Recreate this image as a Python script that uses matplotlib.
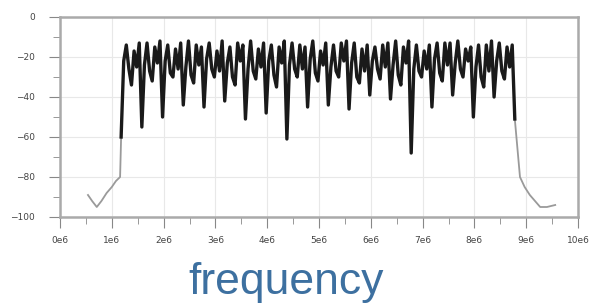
# Frequency response sweep

import numpy as np
import matplotlib
matplotlib.use("Agg")
import matplotlib.pyplot as plt

# Stopband (left)
left_freq = [0.54, 0.62, 0.71, 0.80, 0.90, 1.00, 1.08, 1.16]
left_db = [-89, -92, -95, -92, -88, -85, -82, -80]

# Passband, sampled every 0.05 from 1.18 to 8.78
pass_start = 1.18
pass_step = 0.05
pass_db = [
    -60, -22, -14, -26, -34, -17, -25, -13,
    -55, -24, -13, -27, -32, -15, -23, -12,
    -50, -22, -14, -28, -30, -16, -26, -13,
    -44, -25, -12, -29, -33, -14, -24, -15,
    -45, -21, -13, -26, -30, -17, -27, -12,
    -42, -23, -15, -30, -34, -13, -22, -14,
    -51, -26, -12, -27, -31, -16, -25, -13,
    -48, -22, -14, -29, -35, -15, -23, -12,
    -61, -24, -13, -26, -30, -14, -26, -15,
    -45, -21, -12, -28, -32, -17, -24, -13,
    -44, -25, -14, -27, -30, -13, -22, -12,
    -46, -23, -13, -30, -33, -16, -27, -14,
    -39, -22, -15, -26, -31, -14, -25, -13,
    -41, -24, -12, -29, -34, -15, -23, -12,
    -68, -26, -14, -27, -30, -17, -26, -14,
    -45, -21, -13, -28, -32, -13, -24, -13,
    -39, -23, -12, -26, -30, -16, -22, -15,
    -50, -25, -14, -30, -35, -14, -27, -12,
    -40, -22, -13, -27, -31, -15, -25, -14,
    -51,
]

# Stopband (right)
right_freq = [8.88, 8.97, 9.07, 9.17, 9.27, 9.40, 9.56]
right_db = [-80, -85, -89, -92, -95, -95, -94]

x_ticks = [0, 1, 2, 3, 4, 5, 6, 7, 8, 9, 10]
x_labels = ["0e6", "1e6", "2e6", "3e6", "4e6", "5e6", "6e6", "7e6", "8e6", "9e6", "10e6"]
y_ticks = [0, -20, -40, -60, -80, -100]

pass_freq = pass_start + pass_step * np.arange(len(pass_db))

fig = plt.figure(figsize=(5.91, 3.05), dpi=100)
ax = fig.add_axes([60 / 591, 88 / 305, 518 / 591, 200 / 305])

# stopbands in lighter grey, joined to the passband ends
ax.plot(left_freq + [pass_freq[0]], left_db + [pass_db[0]], color="#9a9a9a", linewidth=1.3)
ax.plot([pass_freq[-1]] + right_freq, [pass_db[-1]] + right_db, color="#9a9a9a", linewidth=1.3)
ax.plot(pass_freq, pass_db, color="#1a1a1a", linewidth=2.4)

ax.set_xlim(0, 10)
ax.set_ylim(-100, 0)
ax.set_xticks(x_ticks)
ax.set_xticklabels(x_labels)
ax.set_yticks(y_ticks)
ax.set_xticks(np.arange(0, 10.01, 0.5), minor=True)
ax.set_yticks(np.arange(-100, 0.1, 10), minor=True)
ax.grid(True, which="major", color="#e8e8e8", linewidth=0.8)
ax.tick_params(which="both", direction="out", colors="#888888", labelcolor="#444444",
               labelsize=6.5)
ax.tick_params(which="major", length=8)
ax.tick_params(which="minor", length=5)
ax.tick_params(axis="x", pad=6)
ax.tick_params(axis="y", pad=10)
for s in ax.spines.values():
    s.set_color("#aaaaaa")
    s.set_linewidth(1.8)

fig.text(286 / 591, 0.075, "frequency", ha="center", va="center", fontsize=32,
         color="#3d70a0", family="Liberation Sans")

fig.savefig("out.png", dpi=100)
